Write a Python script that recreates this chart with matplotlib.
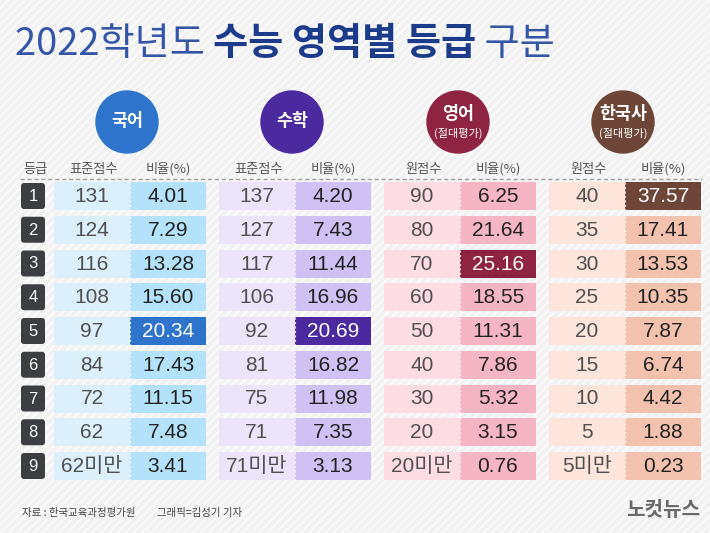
import matplotlib.pyplot as plt
from matplotlib.patches import Rectangle, FancyBboxPatch, Circle
import numpy as np

# data
grades = [1, 2, 3, 4, 5, 6, 7, 8, 9]
subjects = ['국어', '수학', '영어', '한국사']
sub_notes = ['', '', '(절대평가)', '(절대평가)']
score_heads = ['표준점수', '표준점수', '원점수', '원점수']
kor_score = ['131', '124', '116', '108', '97', '84', '72', '62', '62미만']
kor_ratio = [4.01, 7.29, 13.28, 15.60, 20.34, 17.43, 11.15, 7.48, 3.41]
math_score = ['137', '127', '117', '106', '92', '81', '75', '71', '71미만']
math_ratio = [4.20, 7.43, 11.44, 16.96, 20.69, 16.82, 11.98, 7.35, 3.13]
eng_score = ['90', '80', '70', '60', '50', '40', '30', '20', '20미만']
eng_ratio = [6.25, 21.64, 25.16, 18.55, 11.31, 7.86, 5.32, 3.15, 0.76]
hist_score = ['40', '35', '30', '25', '20', '15', '10', '5', '5미만']
hist_ratio = [37.57, 17.41, 13.53, 10.35, 7.87, 6.74, 4.42, 1.88, 0.23]

scores = [kor_score, math_score, eng_score, hist_score]
ratios = [kor_ratio, math_ratio, eng_ratio, hist_ratio]

# colours: circle/highlight, score cell, ratio cell
main_c = ['#2f74cc', '#4a2a9e', '#8e2441', '#6e4638']
score_c = ['#dcf0fc', '#ebe4fb', '#fddce3', '#fde5dc']
ratio_c = ['#b3e2fa', '#cfc1f3', '#f6b5c5', '#f3c2af']

KR = ['Noto Sans CJK KR', 'DejaVu Sans']
NUM = ['Liberation Sans Narrow', 'Liberation Sans', 'Noto Sans CJK KR']

fig = plt.figure(figsize=(7.1, 5.33), dpi=100)
ax = fig.add_axes([0, 0, 1, 1])
ax.set_xlim(0, 710)
ax.set_ylim(533, 0)
ax.axis('off')

plt.rcParams['hatch.linewidth'] = 1.6
plt.rcParams['hatch.color'] = '#fafafa'
ax.add_patch(Rectangle((0, 0), 710, 533, facecolor='#f2f2f2', edgecolor='#fafafa',
                       hatch='////', lw=0, zorder=0))

# title, pieces side by side
fig.canvas.draw()
r = fig.canvas.get_renderer()
x = 15
pieces = [('2022학년도 ', 'light', '#3556a6'), ('수능 영역별 등급', 'bold', '#1d3b8b'),
          (' 구분', 'light', '#3556a6')]
for s, w, c in pieces:
    t = ax.text(x, 44, s, fontsize=27.5, fontweight=w, color=c, family=KR,
                va='center', ha='left')
    bb = t.get_window_extent(renderer=r)
    x += bb.width

x0s = [54, 219, 384, 549]
cw = 76
row_top = 182
pitch = 33.75
rh = 28

# header
ax.text(35, 169, '등급', fontsize=9.5, color='#555555', family=KR, ha='center', va='center')
for g in range(4):
    cx = x0s[g] + cw
    ax.add_patch(Circle((cx - 3 if g < 2 else cx - 2, 122), 31, color=main_c[g], zorder=2))
    if sub_notes[g]:
        ax.text(cx - 2, 114, subjects[g], fontsize=12.5, fontweight='bold', color='white',
                family=KR, ha='center', va='center', zorder=3)
        ax.text(cx - 2, 133, sub_notes[g], fontsize=8, color='white',
                family=KR, ha='center', va='center', zorder=3)
    else:
        ax.text(cx - 3, 121, subjects[g], fontsize=12.5, fontweight='bold', color='white',
                family=KR, ha='center', va='center', zorder=3)
    ax.text(x0s[g] + cw / 2 + 2, 169, score_heads[g], fontsize=9.5, color='#555555',
            family=KR, ha='center', va='center')
    ax.text(x0s[g] + cw * 1.5, 169, '비율(%)', fontsize=9.5, color='#555555',
            family=KR, ha='center', va='center')
ax.plot([20, 702], [179, 179], color='#a0a0a0', lw=1, ls=(0, (3, 2)))

# rows
for i, gr in enumerate(grades):
    yt = row_top + i * pitch
    yc = yt + rh / 2
    ax.add_patch(FancyBboxPatch((21, yt + 1), 24, rh - 2,
                                boxstyle='round,pad=0,rounding_size=3',
                                facecolor='#3c3e42', edgecolor='none', zorder=2))
    ax.text(33, yc + 0.5, str(gr), fontsize=12, color='white',
            family=NUM, ha='center', va='center', zorder=3)
    for g in range(4):
        x0 = x0s[g]
        hi = ratios[g][i] == max(ratios[g])
        ax.add_patch(Rectangle((x0, yt), cw, rh, facecolor=score_c[g], edgecolor='none', zorder=2))
        ax.add_patch(Rectangle((x0 + cw, yt), cw, rh, facecolor=main_c[g] if hi else ratio_c[g],
                               edgecolor='none', zorder=2))
        ax.plot([x0 + cw, x0 + cw], [yt, yt + rh], color='#ffffff', lw=0.8,
                ls=(0, (2, 2)), alpha=0.8, zorder=3)
        ax.text(x0 + cw / 2, yc + 0.5, scores[g][i], fontsize=15, color='#505050',
                family=NUM, ha='center', va='center', zorder=4)
        ax.text(x0 + cw * 1.5, yc + 0.5, f'{ratios[g][i]:.2f}', fontsize=15,
                color='white' if hi else '#222222', family=NUM,
                ha='center', va='center', zorder=4)

# footer
ax.text(22, 513, '자료 : 한국교육과정평가원', fontsize=7.5, color='#444444', family=KR,
        ha='left', va='center')
ax.text(157, 513, '그래픽=김성기 기자', fontsize=7.5, color='#444444', family=KR,
        ha='left', va='center')
ax.text(700, 509, '노컷뉴스', fontsize=14.5, fontweight='bold', color='#6a6a6a', family=KR,
        ha='right', va='center')

fig.savefig('out.png', dpi=100)
